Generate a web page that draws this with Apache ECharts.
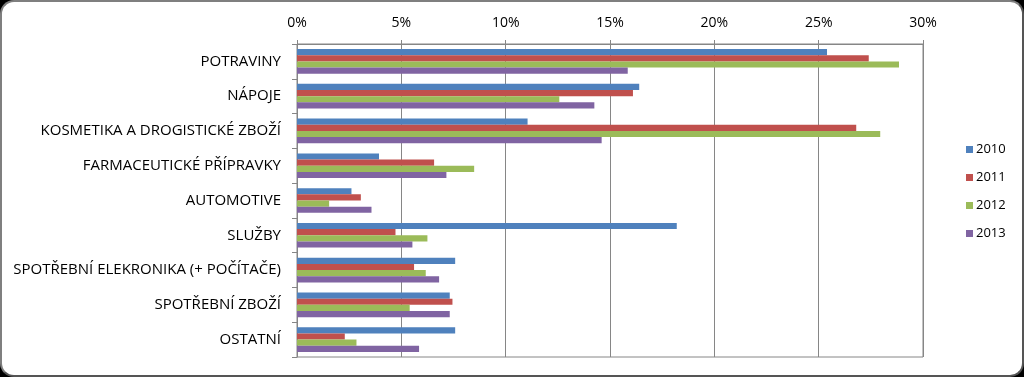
<!DOCTYPE html>
<html>
<head>
<meta charset="utf-8">
<script src="https://cdn.jsdelivr.net/npm/echarts@6/dist/echarts.min.js"></script>
<style>
  html, body { margin: 0; padding: 0; background: #000; }
  #frame {
    width: 1024px; height: 377px; box-sizing: border-box;
    background: #fff; border: 2px solid #7f7f7f; border-radius: 14px;
    border-right-color: #555; border-bottom-color: #555;
    overflow: hidden; position: relative;
  }
  #chart { position: absolute; left: -2px; top: -2px; width: 1024px; height: 377px; }
</style>
</head>
<body>
<div id="frame"><div id="chart"></div></div>
<script>
const categories = [
  'POTRAVINY',
  'NÁPOJE',
  'KOSMETIKA A DROGISTICKÉ ZBOŽÍ',
  'FARMACEUTICKÉ PŘÍPRAVKY',
  'AUTOMOTIVE',
  'SLUŽBY',
  'SPOTŘEBNÍ ELEKRONIKA (+ POČÍTAČE)',
  'SPOTŘEBNÍ ZBOŽÍ',
  'OSTATNÍ'
]
const years = ['2010', '2011', '2012', '2013']

// podíly v %
const values2010 = [25.4, 16.4, 11.05, 3.93, 2.61, 18.2, 7.58, 7.32, 7.58]
const values2011 = [27.4, 16.1, 26.8, 6.57, 3.06, 4.72, 5.61, 7.45, 2.29]
const values2012 = [28.85, 12.57, 27.95, 8.49, 1.54, 6.25, 6.17, 5.4, 2.85]
const values2013 = [15.85, 14.25, 14.6, 7.16, 3.57, 5.53, 6.81, 7.32, 5.85]

const tickValues = [0, 5, 10, 15, 20, 25, 30]

const colors = ['#4F81BD', '#C0504D', '#9BBB59', '#8064A2']
const font = 'Open Sans'

const chart = echarts.init(document.getElementById('chart'))

const seriesData = [values2010, values2011, values2012, values2013]

chart.setOption({
  animation: false,
  color: colors,
  grid: {
    left: 297,
    right: 101,
    top: 44,
    bottom: 20,
    containLabel: false,
    show: true,
    borderColor: '#868686',
    borderWidth: 1
  },
  legend: {
    orient: 'vertical',
    left: 961,
    top: 138,
    itemWidth: 7,
    itemHeight: 7,
    itemGap: 15,
    icon: 'rect',
    data: years,
    textStyle: { fontFamily: font, fontSize: 13, color: '#000', padding: [0, 0, 0, -2] }
  },
  xAxis: {
    type: 'value',
    position: 'top',
    min: tickValues[0],
    max: tickValues[tickValues.length - 1],
    interval: 5,
    axisLine: { show: true, lineStyle: { color: '#868686' } },
    axisTick: { show: true, inside: false, length: 4, lineStyle: { color: '#868686' } },
    axisLabel: {
      margin: 14,
      fontFamily: font,
      fontSize: 14,
      color: '#000',
      formatter: (v) => v + '%'
    },
    splitLine: { show: true, lineStyle: { color: '#868686', width: 1 } }
  },
  yAxis: {
    type: 'category',
    inverse: true,
    data: categories,
    axisLine: { show: true, lineStyle: { color: '#868686' } },
    axisTick: { show: true, length: 5, alignWithLabel: false, lineStyle: { color: '#868686' } },
    axisLabel: {
      margin: 16,
      fontFamily: font,
      fontSize: 15,
      color: '#000'
    }
  },
  series: years.map((y, i) => ({
    name: y,
    type: 'bar',
    data: seriesData[i],
    barGap: '0%',
    barCategoryGap: '29%'
  }))
})
</script>
</body>
</html>
